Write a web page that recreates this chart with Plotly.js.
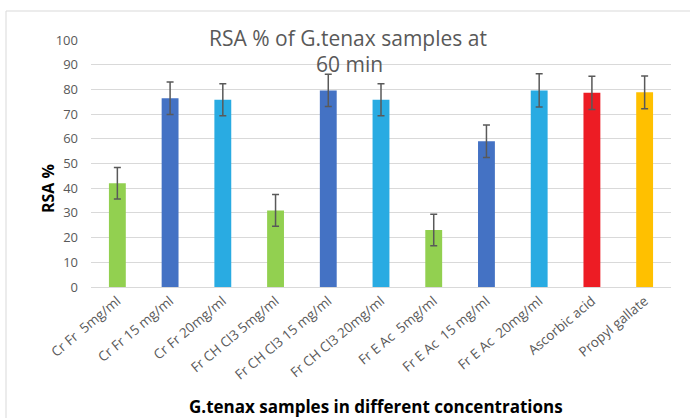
<!DOCTYPE html>
<html>
<head>
<meta charset="utf-8">
<script src="https://cdn.plot.ly/plotly-3.0.1.min.js"></script>
<style>html,body{margin:0;padding:0;background:#fff;}#chart{width:690px;height:418px;}</style>
</head>
<body>
<div id="chart"></div>
<script>
const categories = ["Cr Fr \u00a05mg/ml", "Cr Fr 15 mg/ml", "Cr Fr 20mg/ml", "Fr CH Cl3 5mg/ml", "Fr CH Cl3 15 mg/ml", "Fr CH Cl3 20mg/ml", "Fr E Ac \u00a05mg/ml", "Fr E Ac \u00a015 mg/ml", "Fr E Ac \u00a020mg/ml", "Ascorbic acid", "Propyl gallate"];
const rsaValues = [42.0, 76.4, 75.8, 31.0, 79.6, 75.8, 23.1, 59.0, 79.6, 78.6, 78.8];
const rsaErrors = [6.4, 6.6, 6.5, 6.4, 6.5, 6.5, 6.4, 6.6, 6.7, 6.7, 6.6];
const barColors = ["#92D050", "#4472C4", "#29ABE2", "#92D050", "#4472C4", "#29ABE2", "#92D050", "#4472C4", "#29ABE2", "#ED1C24", "#FFC000"];
const titleLines = ["RSA % of G.tenax samples at", "60 min"];
const yTitle = "RSA %";
const xTitle = "G.tenax samples in different concentrations";

const FONT = "Open Sans, sans-serif";
const trace = {
  type: "bar",
  x: categories,
  y: rsaValues,
  marker: {color: barColors, line: {width: 0}},
  error_y: {type: "data", array: rsaErrors, visible: true, color: "#595959", thickness: 1.5, width: 3.5},
  hoverinfo: "x+y"
};
const layout = {
  width: 690, height: 418,
  margin: {l: 91, r: 19, t: 40, b: 131},
  paper_bgcolor: "#ffffff", plot_bgcolor: "rgba(0,0,0,0)",
  bargap: 0.68,
  showlegend: false,
  font: {family: FONT, color: "#595959"},
  xaxis: {
    type: "category", tickangle: -40, tickfont: {size: 13.5, color: "#595959", family: FONT},
    showgrid: false, showline: true, linecolor: "#D9D9D9", linewidth: 1, ticks: "", ticklen: 0,
    automargin: false
  },
  yaxis: {
    range: [0, 100], dtick: 10, tickfont: {size: 13, color: "#595959", family: FONT},
    showgrid: true, gridcolor: "#D9D9D9", gridwidth: 1, zeroline: false, showline: false,
    ticks: "", ticklabelstandoff: 12, automargin: false, layer: "below traces"
  },
  shapes: [{
    type: "rect", xref: "paper", yref: "paper",
    x0: (6 - 91) / 580, x1: (700 - 91) / 580, y0: (287 - 430) / 247, y1: (287 - 11) / 247,
    line: {color: "#D9D9D9", width: 1}, fillcolor: "rgba(0,0,0,0)", layer: "below"
  }],
  annotations: [
    {text: titleLines[0], xref: "paper", yref: "paper", x: (348 - 91) / 580, y: (287 - 38) / 247, xanchor: "center", yanchor: "middle", showarrow: false, font: {size: 21, color: "#595959", family: FONT}},
    {text: titleLines[1], xref: "paper", yref: "paper", x: (349 - 91) / 580, y: (287 - 64) / 247, xanchor: "center", yanchor: "middle", showarrow: false, font: {size: 21, color: "#595959", family: FONT}},
    {text: "<b>" + yTitle + "</b>", xref: "paper", yref: "paper", x: (48 - 91) / 580, y: (287 - 189) / 247, xanchor: "center", yanchor: "middle", textangle: -90, showarrow: false, font: {size: 16, color: "#000000", family: FONT}},
    {text: "<b>" + xTitle + "</b>", xref: "paper", yref: "paper", x: (376 - 91) / 580, y: (287 - 406) / 247, xanchor: "center", yanchor: "middle", showarrow: false, font: {size: 17, color: "#000000", family: FONT}}
  ]
};
Plotly.newPlot("chart", [trace], layout, {displayModeBar: false, staticPlot: true});
</script>
</body>
</html>
